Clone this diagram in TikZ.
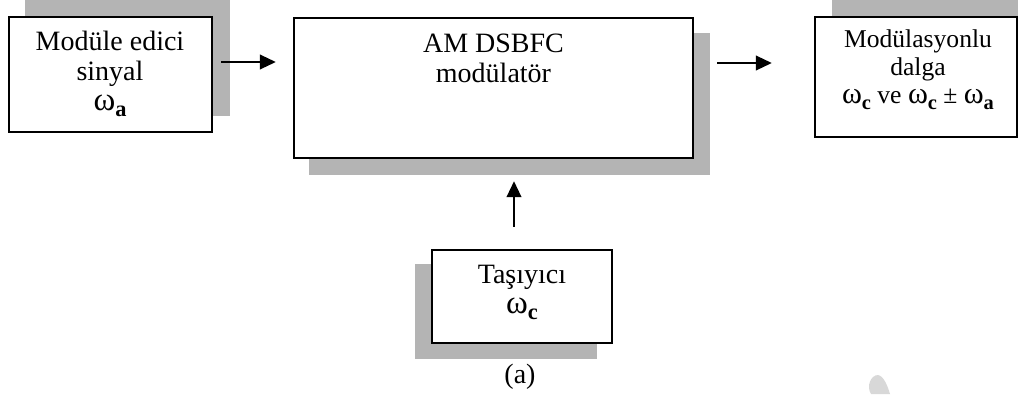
\documentclass[tikz,border=0pt]{standalone}
\usepackage{fontspec}
\setmainfont{Liberation Serif}
\usetikzlibrary{arrows.meta,calc,backgrounds}
\definecolor{shadowgray}{RGB}{180,180,180}
\definecolor{blobgray}{RGB}{216,216,216}
% omega with a bold lowered subscript
\newcommand\omsub[1]{\scalebox{1.18}{ω}\raisebox{-0.24em}{\scalebox{0.8}{\bfseries #1}}}
\begin{document}
\begin{tikzpicture}[x=0.75pt,y=-0.75pt,
  block/.style={draw=black, line width=1.8pt, fill=white, inner sep=0pt},
  txt/.style={align=center, inner sep=0pt, font=\fontsize{21}{22.5}\selectfont},
  txtsmall/.style={align=center, inner sep=0pt, font=\fontsize{19.2}{21}\selectfont},
  arr/.style={-{Triangle[length=12pt,width=11pt]}, line width=1.5pt},
  ]
\useasboundingbox (0,0) rectangle (1018,394);

% blocks
\node[block, minimum width=152.25pt, minimum height=86.25pt] (b1) at (110.5,74.5) {};
\node[block, minimum width=299.25pt, minimum height=105pt] (b2) at (493.5,88) {};
\node[block, minimum width=151.5pt, minimum height=90pt] (b3) at (916,77) {};
\node[block, minimum width=135pt, minimum height=69.75pt] (b4) at (522,296.5) {};

% shadows behind the blocks
\begin{pgfonlayer}{background}
  \clip (0,0) rectangle (1018,394);
  \fill[shadowgray] ($(b1.south west)+(17,-17)$) rectangle ($(b1.north east)+(17,-17)$);
  \fill[shadowgray] ($(b2.south west)+(16,16)$) rectangle ($(b2.north east)+(16,16)$);
  \fill[shadowgray] ($(b3.south west)+(18,-17)$) rectangle ($(b3.north east)+(18,-17)$);
  \fill[shadowgray] ($(b4.south west)+(-16,15)$) rectangle ($(b4.north east)+(-16,15)$);
\end{pgfonlayer}

% labels (anchored on the baseline of their last line)
\node[txt, anchor=base] (t1) at (110,110) {Modüle edici\\sinyal\\\omsub{a}};
\node[txt, anchor=base] (t2) at (493.5,82) {AM DSBFC\\modülatör};
\node[txtsmall, anchor=base] (t3) at (918,103) {Modülasyonlu\\dalga\\\omsub{c} ve \omsub{c} ± \omsub{a}};
\node[txt, anchor=base] (t4) at (522,313) {Taşıyıcı\\\omsub{c}};
\node[txt, anchor=base] (cap) at (520,383) {(a)};

% signal flow
\draw[arr] ($(b1.east)+(8,-12.5)$) -- ($(b2.west)+(-17,-26)$);
\draw[arr] ($(b2.east)+(23,-25)$) -- ($(b3.west)+(-42,-14)$);
\draw[arr] ($(b4.north)+(-8,-22)$) -- ($(b2.south)+(20.5,22)$);

% small grey mark
\fill[blobgray] (871,394) .. controls (866,386) and (871,375) .. (878,375)
  .. controls (884,376) and (888,387) .. (890,394) -- cycle;
\end{tikzpicture}
\end{document}
